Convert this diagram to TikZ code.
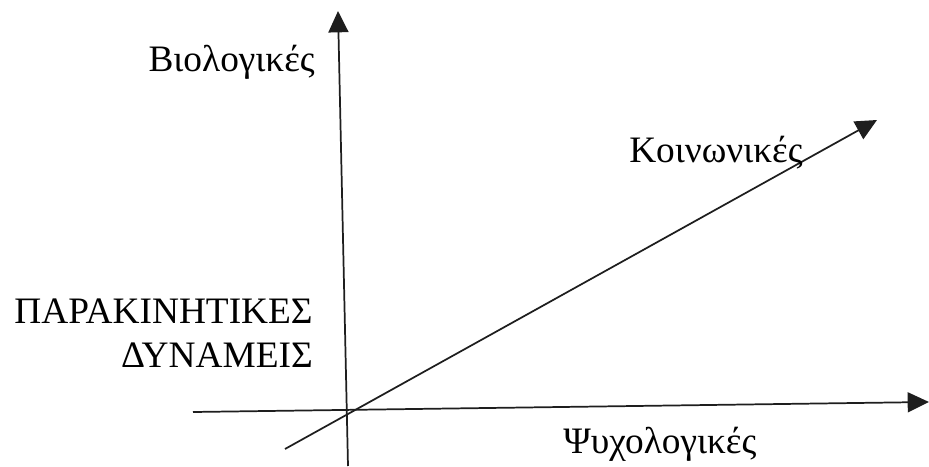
\documentclass[tikz,border=0pt]{standalone}
\usepackage{fontspec}
\setmainfont{Liberation Serif}
\usetikzlibrary{arrows.meta}
\definecolor{axiscolor}{RGB}{30, 30, 30}
\tikzset{
axislabel/.style={
  font=\fontsize{28}{33}\selectfont,
  text=black,
  inner sep=0pt
},
axis/.style={
  -{Triangle[length=16pt,width=15pt]},
  line width=1.3pt,
  draw=axiscolor
},
plainaxis/.style={
  line width=1.3pt,
  draw=axiscolor
}
}
\begin{document}
\begin{tikzpicture}[x=0.75pt, y=-0.75pt]
      \useasboundingbox (0,0) rectangle (929,467);

      % axis end points
      \coordinate (vbot) at (348,466);
      \coordinate (vtop) at (338,11);
      \coordinate (hleft) at (193,412);
      \coordinate (hright) at (929,402);
      \coordinate (dlow) at (285,449);
      \coordinate (dhigh) at (877,120);

      \draw[axis] (vbot) -- (vtop);
      \draw[axis] (hleft) -- (hright);
      \draw[axis] (dlow) -- (dhigh);

      % Labels
      \node[axislabel, anchor=base east] (bio) at (315,72) {Βιολογικές};
      \node[axislabel, anchor=base west] (koin) at (629,162) {Κοινωνικές};
      \node[axislabel, anchor=base west] (psy) at (563,453) {Ψυχολογικές};
      \node[axislabel, anchor=base east] (parak) at (313,323) {ΠΑΡΑΚΙΝΗΤΙΚΕΣ};
      \node[axislabel, anchor=base east] (dyn) at (313,367) {ΔΥΝΑΜΕΙΣ};
    \end{tikzpicture}
\end{document}
